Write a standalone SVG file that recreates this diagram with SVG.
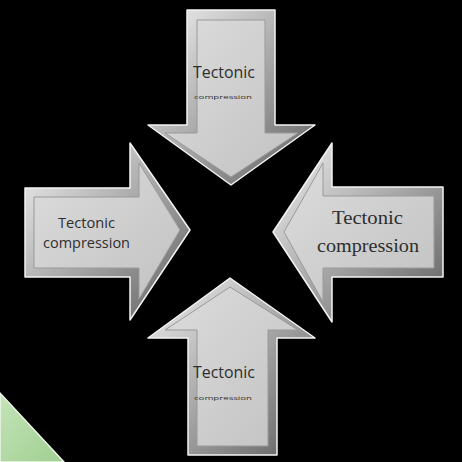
<svg xmlns="http://www.w3.org/2000/svg" width="462" height="462" viewBox="0 0 462 462">
<defs>
<linearGradient id="bevel" x1="0" y1="0" x2="1" y2="1">
<stop offset="0" stop-color="#f2f2f2"/>
<stop offset="0.5" stop-color="#a8a8a8"/>
<stop offset="1" stop-color="#5e5e5e"/>
</linearGradient>
<linearGradient id="face" x1="0" y1="0" x2="1" y2="1">
<stop offset="0" stop-color="#dcdcdc"/>
<stop offset="1" stop-color="#c2c2c2"/>
</linearGradient>
<linearGradient id="grass" x1="0" y1="0" x2="1" y2="1">
<stop offset="0" stop-color="#c4e4b8"/>
<stop offset="1" stop-color="#9fcf90"/>
</linearGradient>
</defs>
<style>
.outer{fill:url(#bevel);stroke:#f4f4f4;stroke-width:1.5;stroke-linejoin:round}
.inner{fill:url(#face);stroke:#9a9a9a;stroke-width:1}
.sans{font-family:"Open Sans","Liberation Sans",sans-serif;fill:#2e2e2e}
.serif{font-family:"Liberation Serif","DejaVu Serif",serif;fill:#2e2e2e}
</style>
<rect width="462" height="462" fill="#000"/>
<polygon points="0,393 0,462 64,462" fill="url(#grass)" stroke="#eef6ea" stroke-width="1.5"/>

<g id="arrow-top">
<polygon class="outer" points="187,10 275,10 275,125 315,125 231,185 148,125 187,125"/>
<polygon class="inner" points="197,20 265,20 265,133 298,133 231,177 165,133 197,133"/>
<text class="sans" x="193" y="78" font-size="16" textLength="62" lengthAdjust="spacingAndGlyphs">Tectonic</text>
<text class="sans" x="194" y="99" font-size="6" textLength="58" lengthAdjust="spacingAndGlyphs">compression</text>
</g>

<g id="arrow-left">
<polygon class="outer" points="25,188 130,188 130,143 190,230 130,320 130,277 25,277"/>
<polygon class="inner" points="34,197 139,197 139,163 180,230 139,299 139,268 34,268"/>
<text class="sans" x="58" y="228" font-size="15" textLength="57" lengthAdjust="spacingAndGlyphs">Tectonic</text>
<text class="sans" x="43" y="248" font-size="15" textLength="87" lengthAdjust="spacingAndGlyphs">compression</text>
</g>

<g id="arrow-right">
<polygon class="outer" points="443,187 332,187 332,143 273,232 332,322 332,277 443,277"/>
<polygon class="inner" points="434,196 323,196 323,163 284,232 323,302 323,268 434,268"/>
<text class="serif" x="332" y="224" font-size="18" textLength="71" lengthAdjust="spacingAndGlyphs">Tectonic</text>
<text class="serif" x="317" y="252" font-size="18" textLength="102" lengthAdjust="spacingAndGlyphs">compression</text>
</g>

<g id="arrow-bottom">
<polygon class="outer" points="188,455 277,455 277,338 315,338 230,278 148,338 188,338"/>
<polygon class="inner" points="197,446 268,446 268,330 298,330 230,287 165,330 197,330"/>
<text class="sans" x="193" y="378" font-size="16" textLength="62" lengthAdjust="spacingAndGlyphs">Tectonic</text>
<text class="sans" x="194" y="400" font-size="6" textLength="58" lengthAdjust="spacingAndGlyphs">compression</text>
</g>
</svg>
